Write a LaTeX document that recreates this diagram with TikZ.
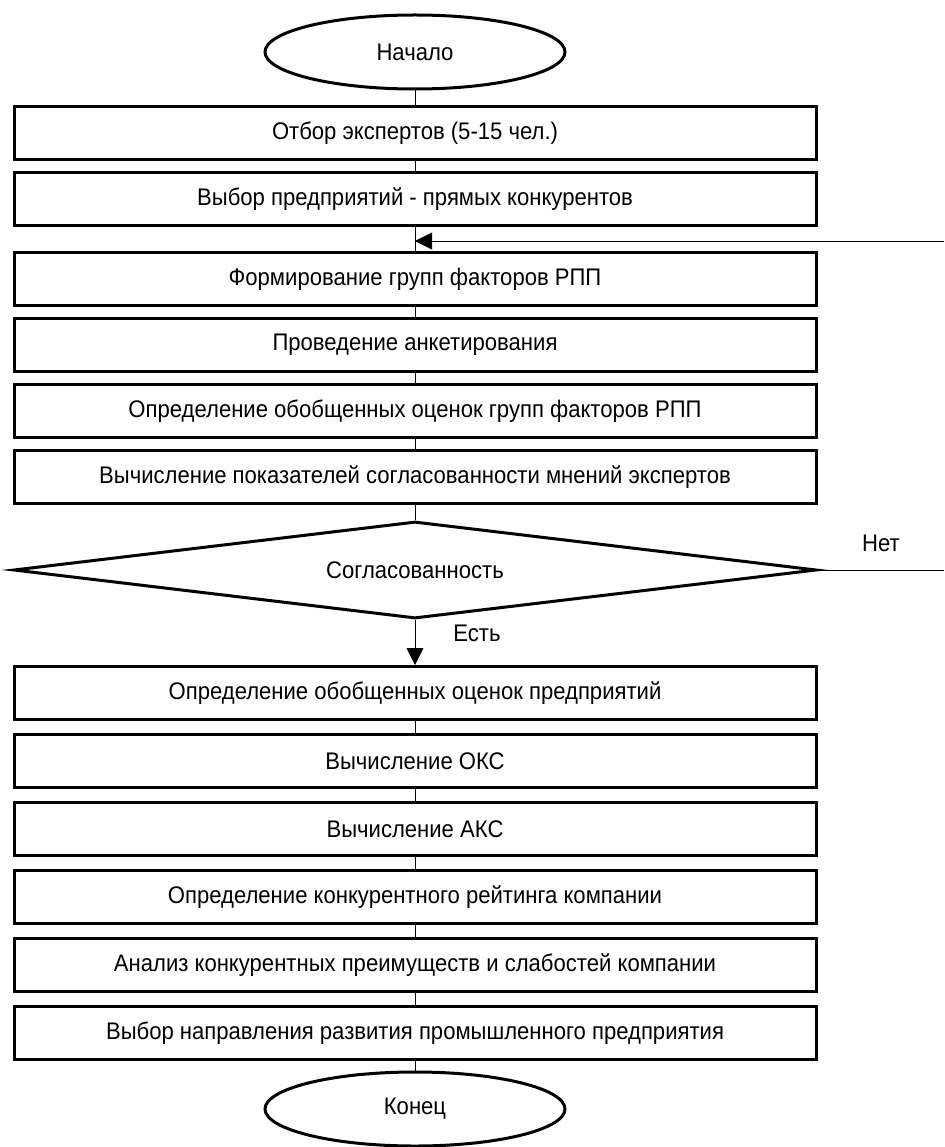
\documentclass[tikz,border=0pt]{standalone}
\usepackage{fontspec}
\setmainfont{Liberation Sans}[FakeStretch=0.92]
\usetikzlibrary{shapes.geometric, arrows.meta}
\tikzstyle{block}=[rectangle, draw, line width=3pt, minimum width=802pt, minimum height=53pt, inner sep=0pt]
\tikzstyle{term}=[ellipse, draw, line width=3pt, minimum width=300pt, minimum height=74pt, inner sep=0pt]
\tikzstyle{check}=[diamond, draw, line width=3pt, aspect=8.2, minimum width=803pt, minimum height=97pt, inner sep=0pt]
\tikzstyle{link}=[line width=0.9pt]
\tikzstyle{arr}=[link, -{Triangle[length=17pt,width=17pt]}]
\newcommand{\block}{\node[block]}

\begin{document}
\begin{tikzpicture}[x=1pt, y=-1pt, font=\fontsize{24}{28}\selectfont]
\useasboundingbox (0,0) rectangle (944,1147);
\node[term] (start) at (415,52) {Начало};
\foreach \y/\t [count=\i] in {133/Отбор экспертов (5-15 чел.), 199/Выбор предприятий - прямых конкурентов, 279/Формирование групп факторов РПП, 345/Проведение анкетирования, 411/Определение обобщенных оценок групп факторов РПП, 477/Вычисление показателей согласованности мнений экспертов}{
	\block (b\i) at (415,\y) {\t};
	}
\foreach \y/\t [count=\i from 7] in {693/Определение обобщенных оценок предприятий, 761/Вычисление ОКС, 829/Вычисление АКС, 897/Определение конкурентного рейтинга компании, 965/Анализ конкурентных преимуществ и слабостей компании, 1033/Выбор направления развития промышленного предприятия}{
	\block (b\i) at (415,\y) {\t};
	}
\node[check] (agree) at (415,570) {Согласованность};
\node[term] (stop) at (415,1109) {Конец};
\node (yes) at (477,633) {Есть};
\node (no) at (881,543) {Нет};
\coordinate (back) at (944,241);
\coordinate (out) at (944,570);
\draw[link] (start) -- (b1);
\foreach \i/\j in {1/2, 2/3, 3/4, 4/5, 5/6, 7/8, 8/9, 9/10, 10/11, 11/12}
	\draw[link] (b\i) -- (b\j);
\draw[arr] (back) -- (b2.south |- back);
\draw[link] (b6) -- (agree);
\draw[link] (agree) -- (out);
\draw[arr] (agree) -- (b7);
\draw[link] (b12) -- (stop);
\end{tikzpicture}
\end{document}
